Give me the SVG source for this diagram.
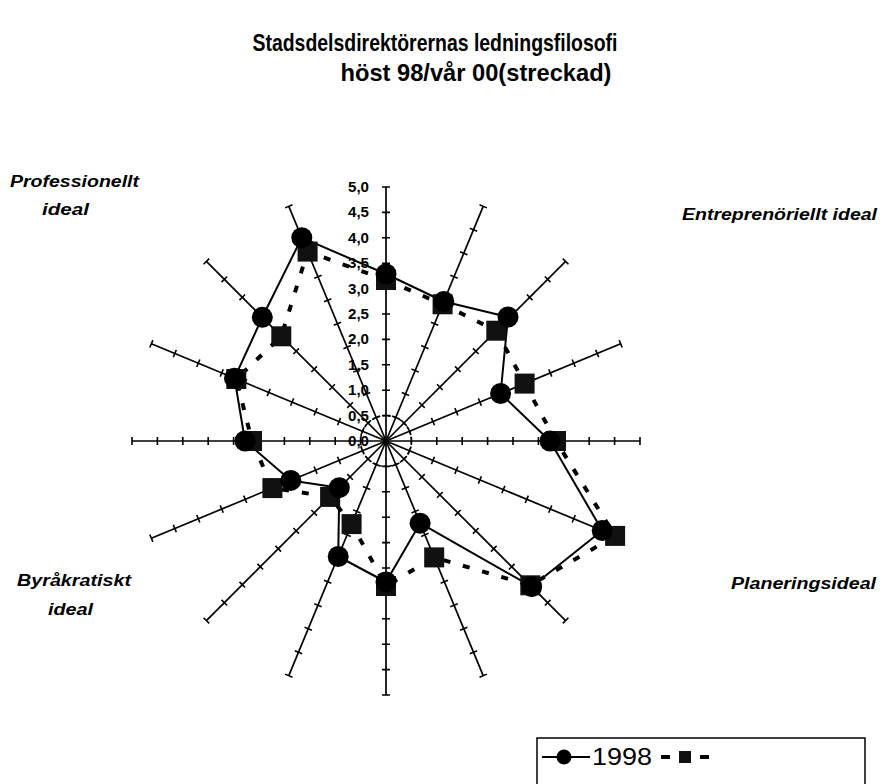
<svg xmlns="http://www.w3.org/2000/svg" xmlns:xlink="http://www.w3.org/1999/xlink" width="885" height="784" viewBox="0 0 885 784">
<style>
.title{font-family:"Liberation Sans",Arial,sans-serif;font-weight:bold;font-size:24px;fill:#000}
.lab{font-family:"Liberation Sans",Arial,sans-serif;font-weight:bold;font-style:italic;font-size:16px;fill:#000}
.tick{font-family:"Liberation Sans",Arial,sans-serif;font-weight:bold;font-size:14px;fill:#000;text-anchor:end}
.leg{font-family:"Liberation Sans",Arial,sans-serif;font-size:23px;fill:#000}
.axis{stroke:#000;stroke-width:1.7;fill:none}
.ticks{stroke:#000;stroke-width:8;stroke-dasharray:1.6 23.8;stroke-dashoffset:20.8;fill:none}
.s98{stroke:#000;stroke-width:2;fill:none;stroke-linejoin:round}
.s00{stroke:#000;stroke-width:4;fill:none;stroke-dasharray:7 13}
.dot{fill:#000}
.sq{fill:#111}
</style>
<defs>
<g id="spoke">
<line class="axis" x1="0" y1="0" x2="0" y2="-254"/>
<line class="ticks" x1="0" y1="-20" x2="0" y2="-255"/>
</g>
</defs>
<rect width="885" height="784" fill="#fff"/>
<g id="title">
<text class="title" x="435" y="51" text-anchor="middle" textLength="365" lengthAdjust="spacingAndGlyphs">Stadsdelsdirektörernas ledningsfilosofi</text>
<text class="title" x="476" y="81" text-anchor="middle" textLength="271" lengthAdjust="spacingAndGlyphs">höst 98/vår 00(streckad)</text>
</g>
<g id="labels">
<text class="lab" x="10" y="187" textLength="129" lengthAdjust="spacingAndGlyphs">Professionellt</text>
<text class="lab" x="42" y="215" textLength="47" lengthAdjust="spacingAndGlyphs">ideal</text>
<text class="lab" x="682" y="220" textLength="195" lengthAdjust="spacingAndGlyphs">Entreprenöriellt ideal</text>
<text class="lab" x="17" y="586" textLength="114" lengthAdjust="spacingAndGlyphs">Byråkratiskt</text>
<text class="lab" x="48" y="615" textLength="45" lengthAdjust="spacingAndGlyphs">ideal</text>
<text class="lab" x="731" y="589" textLength="145" lengthAdjust="spacingAndGlyphs">Planeringsideal</text>
</g>
<g id="axes">
<use xlink:href="#spoke" transform="translate(386,441) rotate(0)"/>
<use xlink:href="#spoke" transform="translate(386,441) rotate(22.5)"/>
<use xlink:href="#spoke" transform="translate(386,441) rotate(45)"/>
<use xlink:href="#spoke" transform="translate(386,441) rotate(67.5)"/>
<use xlink:href="#spoke" transform="translate(386,441) rotate(90)"/>
<use xlink:href="#spoke" transform="translate(386,441) rotate(112.5)"/>
<use xlink:href="#spoke" transform="translate(386,441) rotate(135)"/>
<use xlink:href="#spoke" transform="translate(386,441) rotate(157.5)"/>
<use xlink:href="#spoke" transform="translate(386,441) rotate(180)"/>
<use xlink:href="#spoke" transform="translate(386,441) rotate(202.5)"/>
<use xlink:href="#spoke" transform="translate(386,441) rotate(225)"/>
<use xlink:href="#spoke" transform="translate(386,441) rotate(247.5)"/>
<use xlink:href="#spoke" transform="translate(386,441) rotate(270)"/>
<use xlink:href="#spoke" transform="translate(386,441) rotate(292.5)"/>
<use xlink:href="#spoke" transform="translate(386,441) rotate(315)"/>
<use xlink:href="#spoke" transform="translate(386,441) rotate(337.5)"/>
<circle cx="386" cy="441" r="25.4" fill="none" stroke="#000" stroke-width="1.5" stroke-dasharray="3 2.5"/>
</g>
<g id="scale">
<text class="tick" x="369" y="446" textLength="21" lengthAdjust="spacingAndGlyphs">0,0</text>
<text class="tick" x="369" y="420.6" textLength="21" lengthAdjust="spacingAndGlyphs">0,5</text>
<text class="tick" x="369" y="395.2" textLength="21" lengthAdjust="spacingAndGlyphs">1,0</text>
<text class="tick" x="369" y="369.8" textLength="21" lengthAdjust="spacingAndGlyphs">1,5</text>
<text class="tick" x="369" y="344.4" textLength="21" lengthAdjust="spacingAndGlyphs">2,0</text>
<text class="tick" x="369" y="319" textLength="21" lengthAdjust="spacingAndGlyphs">2,5</text>
<text class="tick" x="369" y="293.6" textLength="21" lengthAdjust="spacingAndGlyphs">3,0</text>
<text class="tick" x="369" y="268.2" textLength="21" lengthAdjust="spacingAndGlyphs">3,5</text>
<text class="tick" x="369" y="242.8" textLength="21" lengthAdjust="spacingAndGlyphs">4,0</text>
<text class="tick" x="369" y="217.4" textLength="21" lengthAdjust="spacingAndGlyphs">4,5</text>
<text class="tick" x="369" y="192" textLength="21" lengthAdjust="spacingAndGlyphs">5,0</text>
</g>
<g id="connectors">
<polygon class="s98" points="386,274 443.8,301.5 508,317 500.6,393.5 550,441 602.2,530.5 531.7,586.7 420.1,523.2 386,582 338.2,556.5 339.3,487.7 290.8,480.4 245,441 234.5,378.2 262.3,317.3 301.8,237.7"/>
<polygon class="s00" points="386,280 442.6,304.3 496.3,330.7 524.6,383.6 556,441 615.1,535.9 530.3,585.3 434.2,557.4 386,586 351.6,524.1 330.1,496.9 272.4,488.1 252,441 236.3,379 281.3,336.3 307.6,251.6"/>
</g>
<g id="series-vaar00">
<rect class="sq" x="376" y="270" width="20" height="20"/>
<rect class="sq" x="432.6" y="294.3" width="20" height="20"/>
<rect class="sq" x="486.3" y="320.7" width="20" height="20"/>
<rect class="sq" x="514.6" y="373.6" width="20" height="20"/>
<rect class="sq" x="546" y="431" width="20" height="20"/>
<rect class="sq" x="605.1" y="525.9" width="20" height="20"/>
<rect class="sq" x="520.3" y="575.3" width="20" height="20"/>
<rect class="sq" x="424.2" y="547.4" width="20" height="20"/>
<rect class="sq" x="376" y="576" width="20" height="20"/>
<rect class="sq" x="341.6" y="514.1" width="20" height="20"/>
<rect class="sq" x="320.1" y="486.9" width="20" height="20"/>
<rect class="sq" x="262.4" y="478.1" width="20" height="20"/>
<rect class="sq" x="242" y="431" width="20" height="20"/>
<rect class="sq" x="226.3" y="369" width="20" height="20"/>
<rect class="sq" x="271.3" y="326.3" width="20" height="20"/>
<rect class="sq" x="297.6" y="241.6" width="20" height="20"/>
</g>
<g id="series-1998">
<circle class="dot" cx="386" cy="274" r="10.5"/>
<circle class="dot" cx="443.8" cy="301.5" r="10.5"/>
<circle class="dot" cx="508" cy="317" r="10.5"/>
<circle class="dot" cx="500.6" cy="393.5" r="10.5"/>
<circle class="dot" cx="550" cy="441" r="10.5"/>
<circle class="dot" cx="602.2" cy="530.5" r="10.5"/>
<circle class="dot" cx="531.7" cy="586.7" r="10.5"/>
<circle class="dot" cx="420.1" cy="523.2" r="10.5"/>
<circle class="dot" cx="386" cy="582" r="10.5"/>
<circle class="dot" cx="338.2" cy="556.5" r="10.5"/>
<circle class="dot" cx="339.3" cy="487.7" r="10.5"/>
<circle class="dot" cx="290.8" cy="480.4" r="10.5"/>
<circle class="dot" cx="245" cy="441" r="10.5"/>
<circle class="dot" cx="234.5" cy="378.2" r="10.5"/>
<circle class="dot" cx="262.3" cy="317.3" r="10.5"/>
<circle class="dot" cx="301.8" cy="237.7" r="10.5"/>
</g>
<g id="legend">
<rect x="537" y="738" width="328" height="60" fill="none" stroke="#000" stroke-width="1.5"/>
<line x1="542" y1="757" x2="590" y2="757" stroke="#000" stroke-width="2"/>
<circle cx="564" cy="757" r="7.5" fill="#000"/>
<text class="leg" x="592" y="765" textLength="60" lengthAdjust="spacingAndGlyphs">1998</text>
<line x1="661" y1="757" x2="670" y2="757" stroke="#000" stroke-width="4"/>
<rect x="679" y="751" width="12" height="12" fill="#111"/>
<line x1="700" y1="757" x2="709" y2="757" stroke="#000" stroke-width="4"/>
</g>
</svg>
